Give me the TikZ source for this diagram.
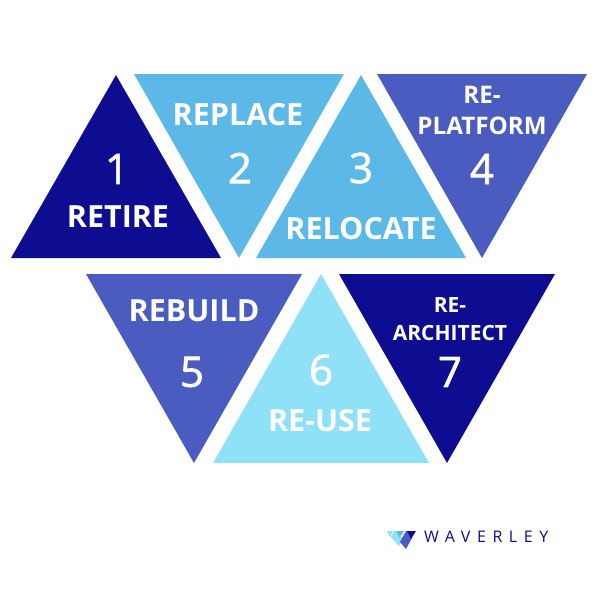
\documentclass[tikz,border=0pt]{standalone}
\usepackage{fontspec}
\setmainfont{Open Sans}
\usepackage{xcolor}
\usetikzlibrary{positioning}
\definecolor{navytri}{HTML}{0E0C91}
\definecolor{skytri}{HTML}{5CB8E6}
\definecolor{indigotri}{HTML}{4A5CC0}
\definecolor{palettri}{HTML}{8EE1F7}
\tikzstyle{word} = [text=white,font=\bfseries\fontsize{30.5}{36}\selectfont,inner sep=0pt,align=center]
\tikzstyle{smallword} = [text=white,font=\bfseries\fontsize{21}{27.5}\selectfont,inner sep=0pt,align=center]
\tikzstyle{digit} = [text=white,font=\addfontfeature{FakeBold=1.5}\fontsize{42}{42}\selectfont,inner sep=0pt]
\begin{document}
\begin{tikzpicture}[x=1pt,y=-1pt]
        \useasboundingbox (0,0) rectangle (606,608);
        % top row
        \fill[navytri] (116,75) -- (221,258) -- (11,258) -- cycle;
        \fill[skytri] (134,74) -- (344,74) -- (239,258) -- cycle;
        \fill[skytri] (361,75) -- (466,258) -- (256,258) -- cycle;
        \fill[indigotri] (377,74) -- (587,74) -- (482,258) -- cycle;
        % bottom row
        \fill[indigotri] (86,274) -- (302,274) -- (194,463) -- cycle;
        \fill[palettri] (321,274) -- (429,463) -- (213,463) -- cycle;
        \fill[navytri] (339,274) -- (555,274) -- (447,463) -- cycle;
        % logo
        \fill[palettri] (387,531) -- (393,531) -- (390,537) -- cycle;
        \fill[palettri] (391,537) -- (394,531) -- (396,531) -- (399,537) -- (404,537) -- (399,546) -- cycle;
        \fill[skytri] (396,531) -- (404,531) -- (399.5,538) -- cycle;
        \fill[indigotri] (400,542) -- (406,531) -- (408,531) -- (412,538) -- (406,549) -- cycle;
        \fill[navytri] (407,531) -- (416,531) -- (411,539) -- cycle;
        % labels
        \node[digit] (n1) at (117,169) {1};
        \node[word] (retire) at (118,217) {RETIRE};
        \node[word] (replace) at (238,115) {REPLACE};
        \node[digit] (n2) at (240,168) {2};
        \node[digit] (n3) at (361,168) {3};
        \node[word] (relocate) at (361,229) {RELOCATE};
        \node[smallword,font=\bfseries\fontsize{24.2}{31}\selectfont] (replatform) at (482,110.5) {RE-\\PLATFORM};
        \node[digit] (n4) at (482,169) {4};
        \node[word] (rebuild) at (194,311) {REBUILD};
        \node[digit] (n5) at (192,372) {5};
        \node[digit] (n6) at (321,370) {6};
        \node[word] (reuse) at (320,421) {RE-USE};
        \node[smallword] (rearchitect) at (450,319) {RE-\\ARCHITECT};
        \node[digit] (n7) at (450,372) {7};
        \node[text=navytri,inner sep=0pt,font=\addfontfeature{LetterSpace=41}\fontsize{16}{16}\selectfont,anchor=west] (waverley) at (424,537) {WAVERLEY};
      \end{tikzpicture}
\end{document}
